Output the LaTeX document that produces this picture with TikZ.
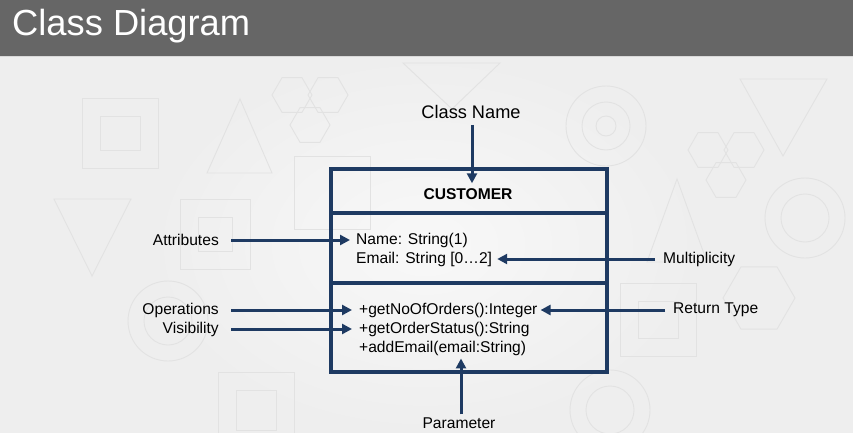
\documentclass[tikz,border=0pt]{standalone}
\usepackage{fontspec}
\setmainfont{Liberation Sans}
\usetikzlibrary{arrows.meta,shapes.geometric}
\definecolor{navy}{RGB}{30,58,98}
\definecolor{barcol}{RGB}{102,102,102}
\definecolor{bgcol}{RGB}{238,238,238}
\definecolor{decor}{RGB}{226,226,226}
\tikzset{
  lbl/.style={inner sep=0pt, font=\fontsize{15.6}{18}\selectfont, text=black},
  arr/.style={draw=navy, line width=3pt, -{Triangle[length=10pt,width=10pt]}},
  umlbox/.style={draw=navy, line width=3.5pt},
  deco/.style={draw=decor, line width=0.9pt},
}
\begin{document}
\begin{tikzpicture}[x=1pt,y=-1pt]
\useasboundingbox (0,0) rectangle (853,433);
% background
\fill[bgcol] (0,0) rectangle (853,433);
\shade[inner color=white!60!bgcol, outer color=bgcol] (150,56) rectangle (700,433);
% faint decoration
\draw[deco] (82,98) rectangle (158,168); \draw[deco] (100,116) rectangle (140,150);
\draw[deco] (240,99) -- (272,173) -- (207,173) -- cycle;
\node[deco, regular polygon, regular polygon sides=6, minimum size=40pt] (h1) at (292,95) {};
\node[deco, regular polygon, regular polygon sides=6, minimum size=40pt] (h2) at (328,95) {};
\node[deco, regular polygon, regular polygon sides=6, minimum size=40pt] (h3) at (310,125) {};
\draw[deco] (54,199) -- (131,199) -- (92,276) -- cycle;
\draw[deco] (180,199) rectangle (250,269); \draw[deco] (198,217) rectangle (232,251);
\draw[deco] (168,321) circle (40); \draw[deco] (168,321) circle (24);
\draw[deco] (218,372) rectangle (294,440); \draw[deco] (236,390) rectangle (276,430);
\draw[deco] (606,126) circle (40); \draw[deco] (606,126) circle (24); \draw[deco] (606,126) circle (10);
\draw[deco] (740,79) -- (827,79) -- (783,156) -- cycle;
\node[deco, regular polygon, regular polygon sides=6, minimum size=40pt] (h4) at (708,150) {};
\node[deco, regular polygon, regular polygon sides=6, minimum size=40pt] (h5) at (744,150) {};
\node[deco, regular polygon, regular polygon sides=6, minimum size=40pt] (h6) at (726,180) {};
\draw[deco] (677,179) -- (707,262) -- (647,262) -- cycle;
\draw[deco] (805,218) circle (40); \draw[deco] (805,218) circle (24);
\node[deco, regular polygon, regular polygon sides=6, minimum size=72pt] (h7) at (759,298) {};
\draw[deco] (620,283) rectangle (696,356); \draw[deco] (638,301) rectangle (678,338);
\draw[deco] (610,410) circle (40); \draw[deco] (610,410) circle (24);
\draw[deco] (294,156) rectangle (370,229);
\draw[deco] (403,63) -- (500,63) -- (452,109) -- cycle;
% title bar
\fill[barcol] (0,0) rectangle (853,56);
\draw[white!85!black, line width=1pt] (0,56.5) -- (853,56.5);
\node[anchor=base west, inner sep=0pt, text=white, font=\fontsize{36.3}{40}\selectfont] (title) at (12,36) {Class Diagram};
% class box
\draw[umlbox] (331,169) rectangle (607,372);
\draw[umlbox] (331,213) -- (607,213);
\draw[umlbox] (331,283) -- (607,283);
% texts
\node[lbl, font=\fontsize{18.2}{21}\selectfont] (cname) at (471,112) {Class Name};
\node[lbl, font=\bfseries\fontsize{15.6}{18}\selectfont] (cust) at (468,194) {CUSTOMER};
\node[lbl, anchor=west] (name) at (356,240) {Name: String(1)};
\node[lbl, anchor=west] (email) at (356,259) {Email: String [0\ldots2]};
\node[lbl, anchor=west] (op1) at (359,310) {+getNoOfOrders():Integer};
\node[lbl, anchor=west] (op2) at (359,329) {+getOrderStatus():String};
\node[lbl, anchor=west] (op3) at (359,348) {+addEmail(email:String)};
\node[lbl, anchor=east] (attr) at (219,240) {Attributes};
\node[lbl, anchor=east] (ops) at (219,310) {Operations};
\node[lbl, anchor=east] (vis) at (219,329) {Visibility};
\node[lbl, anchor=west] (mult) at (663,259) {Multiplicity};
\node[lbl, anchor=west] (ret) at (673,310) {Return Type};
\node[lbl] (param) at (459,423) {Parameter};
% connectors
\draw[arr] ([xshift=1pt,yshift=-6pt]cname.south) -- ([xshift=1pt,yshift=5pt]cname.south |- cust.north);
\draw[arr] ([xshift=12pt]attr.east) -- ([xshift=-6pt]name.west);
\draw[arr] ([xshift=12pt]ops.east) -- ([xshift=-7pt]op1.west);
\draw[arr] ([xshift=12pt]vis.east) -- ([xshift=-7pt]op2.west);
\draw[arr] ([xshift=-8pt]mult.west) -- ([xshift=5pt]email.east);
\draw[arr] ([xshift=-8pt]ret.west) -- ([xshift=3pt]op1.east);
\draw[arr] ([xshift=2pt,yshift=3pt]param.north) -- ([xshift=2pt,yshift=-3pt]param.north |- op3.south);
\end{tikzpicture}
\end{document}
